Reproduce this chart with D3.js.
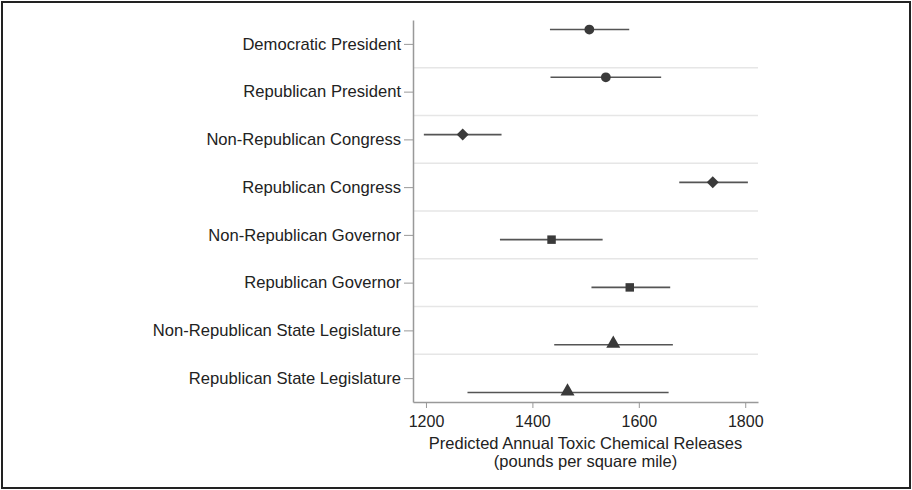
<!DOCTYPE html>
<html>
<head>
<meta charset="utf-8">
<script src="https://cdn.jsdelivr.net/npm/d3@7"></script>
<style>
  html, body { margin: 0; padding: 0; background: #fff; }
  svg { display: block; font-family: "Liberation Sans", Arial, Helvetica, sans-serif; }
</style>
</head>
<body>
<svg id="chart" width="912" height="490"></svg>
<script>
// ---- data ----
const categories = [
  "Democratic President",
  "Republican President",
  "Non-Republican Congress",
  "Republican Congress",
  "Non-Republican Governor",
  "Republican Governor",
  "Non-Republican State Legislature",
  "Republican State Legislature"
];
const estimates = [1507, 1538, 1269, 1739, 1436, 1583, 1552, 1466];
const lowerCI   = [1433, 1434, 1196, 1676, 1339, 1511, 1441, 1278];
const upperCI   = [1582, 1642, 1342, 1805, 1532, 1659, 1664, 1656];
// series (marker group) each category belongs to: 0 president, 1 congress, 2 governor, 3 state legislature
const seriesIndex = [0, 0, 1, 1, 2, 2, 3, 3];
const seriesMarkers = ["circle", "diamond", "square", "triangle"];
const xTicks = [1200, 1400, 1600, 1800];
const xTitle = ["Predicted Annual Toxic Chemical Releases", "(pounds per square mile)"];

// ---- layout ----
const svg = d3.select("#chart");
const plot = { left: 413, right: 758, top: 20, bottom: 402 };

svg.append("rect")
  .attr("x", 2).attr("y", 2).attr("width", 908).attr("height", 486)
  .attr("fill", "none").attr("stroke", "#222").attr("stroke-width", 2);

const x = d3.scaleLinear().domain([1175.6, 1824]).range([plot.left, plot.right]);
const y = d3.scaleLinear().domain([-0.5, categories.length - 0.5]).range([plot.top, plot.bottom]);
const nSeries = seriesMarkers.length;
const offsetOf = s => (s - (nSeries - 1) / 2) * 0.2;

// gridlines between categories
const g = svg.append("g");
g.selectAll("line.grid")
  .data(d3.range(categories.length - 1))
  .join("line")
  .attr("class", "grid")
  .attr("x1", plot.left).attr("x2", plot.right)
  .attr("y1", i => y(i + 0.5)).attr("y2", i => y(i + 0.5))
  .attr("stroke", "#e6e6e6").attr("stroke-width", 1.5);

// y axis
const yAxis = d3.axisLeft(y)
  .tickValues(d3.range(categories.length))
  .tickFormat(i => categories[i])
  .tickSize(9).tickPadding(3).tickSizeOuter(0);
const ya = svg.append("g").attr("transform", `translate(${plot.left},0)`).call(yAxis);
ya.select(".domain").attr("stroke", "#999").attr("stroke-width", 1.5);
ya.selectAll(".tick line").attr("stroke", "#999").attr("stroke-width", 1);
ya.selectAll(".tick text").attr("font-size", 16.6).attr("fill", "#222")
  .attr("font-family", "'Liberation Sans', Arial, sans-serif");

// x axis
const xAxis = d3.axisBottom(x).tickValues(xTicks).tickFormat(d3.format("d"))
  .tickSize(6).tickPadding(8).tickSizeOuter(0);
const xa = svg.append("g").attr("transform", `translate(0,${plot.bottom})`).call(xAxis);
xa.select(".domain").attr("stroke", "#999").attr("stroke-width", 1.5);
xa.selectAll(".tick line").attr("stroke", "#999").attr("stroke-width", 1);
xa.selectAll(".tick text").attr("font-size", 16).attr("fill", "#222")
  .attr("font-family", "'Liberation Sans', Arial, sans-serif");

// axis title
const xMid = (plot.left + plot.right) / 2;
svg.selectAll("text.xtitle")
  .data(xTitle)
  .join("text")
  .attr("class", "xtitle")
  .attr("x", xMid)
  .attr("y", (d, i) => 449 + i * 18)
  .attr("text-anchor", "middle")
  .attr("font-size", 16.5)
  .attr("fill", "#222")
  .text(d => d);

// CI lines & markers
const rows = categories.map((c, i) => ({
  i, est: estimates[i], lo: lowerCI[i], hi: upperCI[i], s: seriesIndex[i]
}));
const ypos = d => y(d.i + offsetOf(d.s));

svg.append("g").selectAll("line")
  .data(rows).join("line")
  .attr("x1", d => x(d.lo)).attr("x2", d => x(d.hi))
  .attr("y1", ypos).attr("y2", ypos)
  .attr("stroke", "#555").attr("stroke-width", 1.6);

const symbolType = {
  circle: d3.symbolCircle,
  diamond: d3.symbolSquare,
  square: d3.symbolSquare,
  triangle: d3.symbolTriangle
};
const symbolSize = { circle: 75, diamond: 72, square: 72, triangle: 85 };
svg.append("g").selectAll("path")
  .data(rows).join("path")
  .attr("d", d => {
    const m = seriesMarkers[d.s];
    return d3.symbol().type(symbolType[m]).size(symbolSize[m])();
  })
  .attr("transform", d => {
    const m = seriesMarkers[d.s];
    const rot = m === "diamond" ? 45 : 0;
    const dy = m === "triangle" ? -1 : 0;
    return `translate(${x(d.est)},${ypos(d) + dy}) rotate(${rot})`;
  })
  .attr("fill", "#3a3a3a");
</script>
</body>
</html>
